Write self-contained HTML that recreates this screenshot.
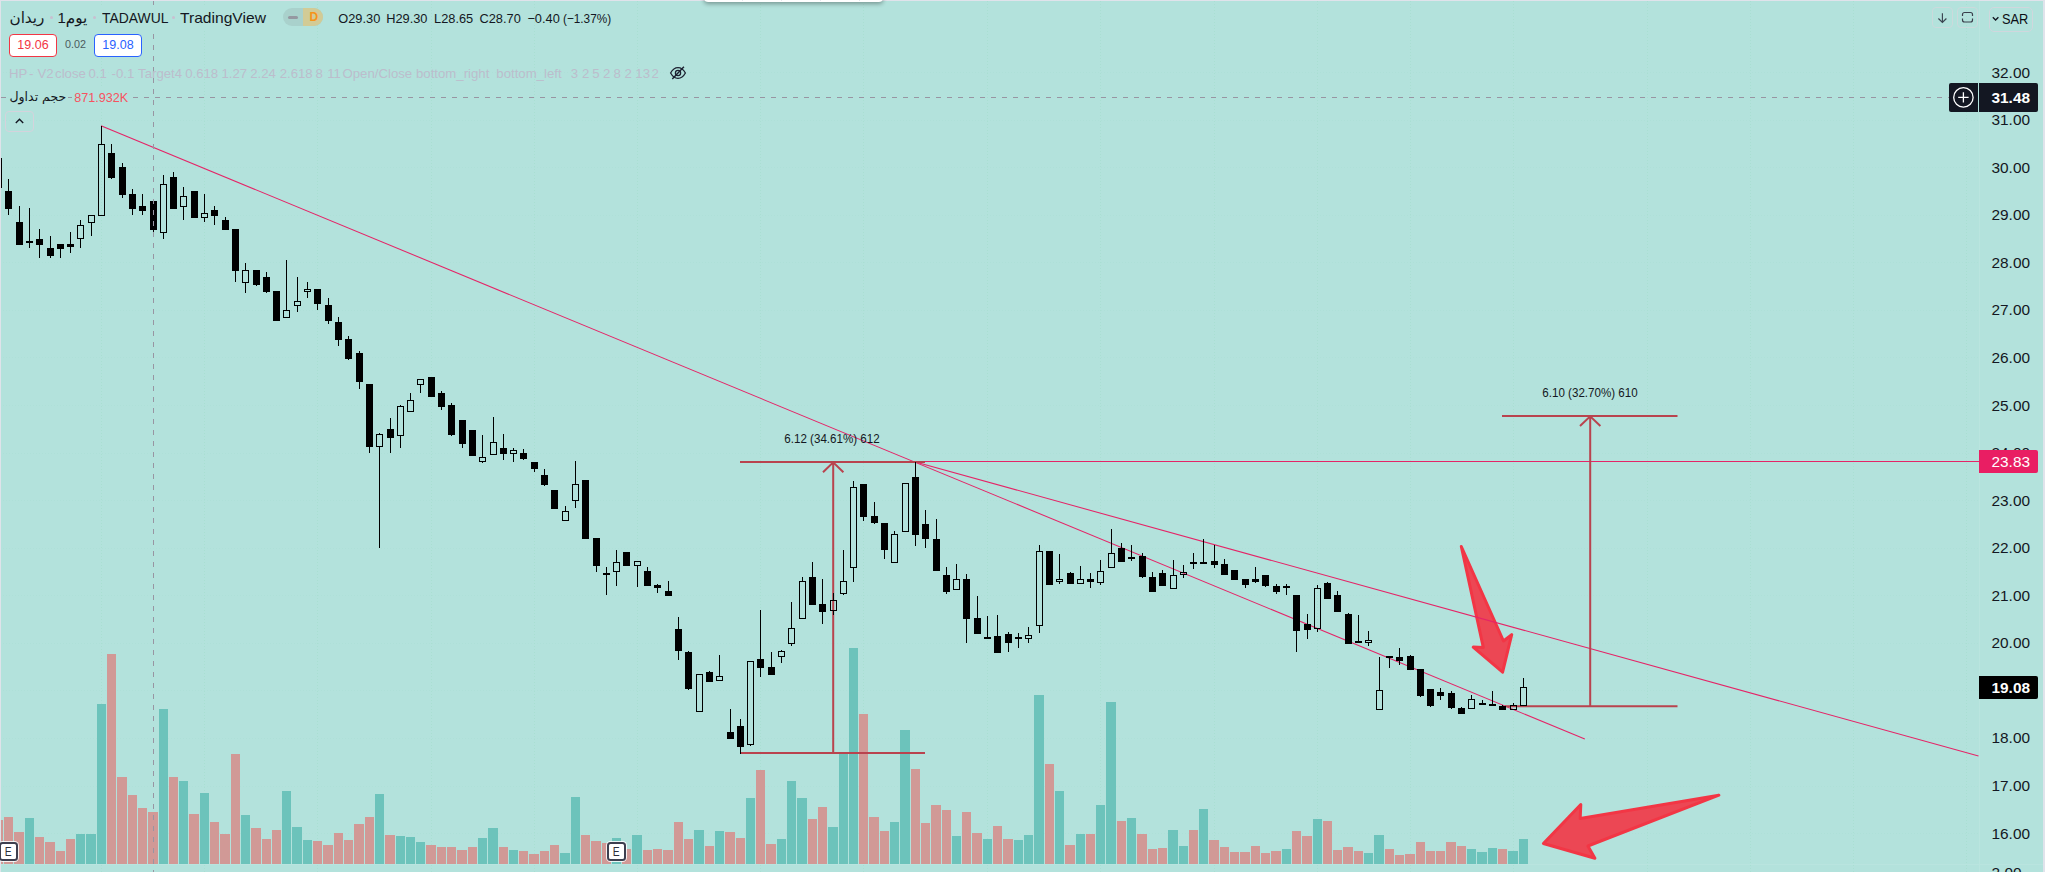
<!DOCTYPE html>
<html lang="ar"><head><meta charset="utf-8"><title>TADAWUL chart</title><style>
html,body{margin:0;padding:0}
body{width:2045px;height:872px;overflow:hidden;background:#b3e2dc;position:relative;font-family:"Liberation Sans","DejaVu Sans",sans-serif;color:#131722}
.t{position:absolute;white-space:nowrap;line-height:1.2}
.ar{font-family:"DejaVu Sans","Liberation Sans",sans-serif}
.c{text-align:center}
.hp{position:absolute;left:0;top:65.5px;font-size:13.2px;line-height:1.2;color:#bcbdcc;white-space:nowrap}
.hp span{position:absolute;top:0}
.sx{transform-origin:0 50%}
.pl{position:absolute;left:1979px;width:59px;text-align:right;padding-right:0;font-size:15.4px;line-height:20px;height:20px;color:#131722;box-sizing:border-box;padding-right:8px}
.box{position:absolute;color:#fff;font-size:15.4px;text-align:right;box-sizing:border-box;padding-right:8px;border-radius:0 2px 2px 0}
.b{font-weight:bold}
.btn{position:absolute;border:1px solid #c9dfe3;border-radius:4px;box-sizing:content-box}
.dot{position:absolute;width:3px;height:3px;border-radius:50%;background:#c9bfd0}
.qb{position:absolute;box-sizing:border-box;width:48px;height:23px;border:1px solid;border-radius:4px;background:#fff;font-size:12.5px;line-height:21px;text-align:center}
.em{position:absolute;box-sizing:border-box;width:19px;height:19px;border:2px solid #3d3f4f;border-radius:3.5px;background:#fff;box-shadow:0 0 0 1px rgba(255,255,255,.85);font-size:12.6px;line-height:16.6px;text-align:center;color:#2a2e39}
.em span{display:inline-block;transform:scaleX(.82)}
</style></head><body>
<svg width="2045" height="872" viewBox="0 0 2045 872" style="position:absolute;left:0;top:0"><g id="grid" stroke="#a9dfd2" stroke-width="1" stroke-dasharray="1 2" fill="none" shape-rendering="crispEdges">
<path d="M0 833.5H1979" stroke="#aee0d8"/>
<path d="M0 786.5H1979" stroke="#aee0d8"/>
<path d="M0 738.5H1979" stroke="#aee0d8"/>
<path d="M0 690.5H1979" stroke="#aee0d8"/>
<path d="M0 643.5H1979" stroke="#aee0d8"/>
<path d="M0 595.5H1979" stroke="#aee0d8"/>
<path d="M0 548.5H1979" stroke="#aee0d8"/>
<path d="M0 500.5H1979" stroke="#aee0d8"/>
<path d="M0 453.5H1979" stroke="#aee0d8"/>
<path d="M0 405.5H1979" stroke="#aee0d8"/>
<path d="M0 357.5H1979" stroke="#aee0d8"/>
<path d="M0 310.5H1979" stroke="#aee0d8"/>
<path d="M0 262.5H1979" stroke="#aee0d8"/>
<path d="M0 215.5H1979" stroke="#aee0d8"/>
<path d="M0 167.5H1979" stroke="#aee0d8"/>
<path d="M0 120.5H1979" stroke="#aee0d8"/>
<path d="M0 72.5H1979" stroke="#aee0d8"/>
<path d="M101.5 1V872"/>
<path d="M204.5 1V872"/>
<path d="M317.5 1V872"/>
<path d="M431.5 1V872"/>
<path d="M534.5 1V872"/>
<path d="M637.5 1V872"/>
<path d="M760.5 1V872"/>
<path d="M863.5 1V872"/>
<path d="M987.5 1V872"/>
<path d="M1100.5 1V872"/>
<path d="M1214.5 1V872"/>
<path d="M1317.5 1V872"/>
<path d="M1410.5 1V872"/>
<path d="M1513.5 1V872"/>
<path d="M1647.5 1V872"/>
<path d="M1750.5 1V872"/>
<path d="M1853.5 1V872"/>
<path d="M1966.5 1V872"/>
</g>
<g id="vol" shape-rendering="crispEdges">
<rect x="-6" y="820" width="9" height="44" fill="#d19996"/>
<rect x="4" y="817" width="9" height="47" fill="#d19996"/>
<rect x="14" y="832" width="10" height="32" fill="#d19996"/>
<rect x="25" y="818" width="9" height="46" fill="#6cc3bb"/>
<rect x="35" y="837" width="9" height="27" fill="#d19996"/>
<rect x="45" y="842" width="10" height="22" fill="#d19996"/>
<rect x="56" y="851" width="9" height="13" fill="#d19996"/>
<rect x="66" y="839" width="9" height="25" fill="#d19996"/>
<rect x="76" y="834" width="9" height="30" fill="#6cc3bb"/>
<rect x="86" y="834" width="10" height="30" fill="#6cc3bb"/>
<rect x="97" y="704" width="9" height="160" fill="#6cc3bb"/>
<rect x="107" y="654" width="9" height="210" fill="#d19996"/>
<rect x="117" y="777" width="10" height="87" fill="#d19996"/>
<rect x="128" y="795" width="9" height="69" fill="#d19996"/>
<rect x="138" y="808" width="9" height="56" fill="#d19996"/>
<rect x="148" y="812" width="10" height="52" fill="#d19996"/>
<rect x="159" y="709" width="9" height="155" fill="#6cc3bb"/>
<rect x="169" y="777" width="9" height="87" fill="#d19996"/>
<rect x="179" y="781" width="9" height="83" fill="#6cc3bb"/>
<rect x="189" y="814" width="10" height="50" fill="#d19996"/>
<rect x="200" y="793" width="9" height="71" fill="#6cc3bb"/>
<rect x="210" y="822" width="9" height="42" fill="#d19996"/>
<rect x="220" y="834" width="10" height="30" fill="#d19996"/>
<rect x="231" y="754" width="9" height="110" fill="#d19996"/>
<rect x="241" y="815" width="9" height="49" fill="#6cc3bb"/>
<rect x="251" y="828" width="10" height="36" fill="#d19996"/>
<rect x="262" y="839" width="9" height="25" fill="#d19996"/>
<rect x="272" y="830" width="9" height="34" fill="#d19996"/>
<rect x="282" y="791" width="9" height="73" fill="#6cc3bb"/>
<rect x="292" y="827" width="10" height="37" fill="#6cc3bb"/>
<rect x="303" y="840" width="9" height="24" fill="#6cc3bb"/>
<rect x="313" y="841" width="9" height="23" fill="#d19996"/>
<rect x="323" y="845" width="10" height="19" fill="#d19996"/>
<rect x="334" y="833" width="9" height="31" fill="#d19996"/>
<rect x="344" y="840" width="9" height="24" fill="#d19996"/>
<rect x="354" y="824" width="10" height="40" fill="#d19996"/>
<rect x="365" y="817" width="9" height="47" fill="#d19996"/>
<rect x="375" y="794" width="9" height="70" fill="#6cc3bb"/>
<rect x="385" y="835" width="10" height="29" fill="#d19996"/>
<rect x="396" y="836" width="9" height="28" fill="#6cc3bb"/>
<rect x="406" y="837" width="9" height="27" fill="#6cc3bb"/>
<rect x="416" y="842" width="9" height="22" fill="#6cc3bb"/>
<rect x="426" y="845" width="10" height="19" fill="#d19996"/>
<rect x="437" y="847" width="9" height="17" fill="#d19996"/>
<rect x="447" y="847" width="9" height="17" fill="#d19996"/>
<rect x="457" y="850" width="10" height="14" fill="#d19996"/>
<rect x="468" y="847" width="9" height="17" fill="#d19996"/>
<rect x="478" y="838" width="9" height="26" fill="#6cc3bb"/>
<rect x="488" y="828" width="10" height="36" fill="#6cc3bb"/>
<rect x="499" y="847" width="9" height="17" fill="#d19996"/>
<rect x="509" y="850" width="9" height="14" fill="#6cc3bb"/>
<rect x="519" y="851" width="9" height="13" fill="#d19996"/>
<rect x="529" y="854" width="10" height="10" fill="#d19996"/>
<rect x="540" y="851" width="9" height="13" fill="#d19996"/>
<rect x="550" y="845" width="9" height="19" fill="#d19996"/>
<rect x="560" y="853" width="10" height="11" fill="#6cc3bb"/>
<rect x="571" y="797" width="9" height="67" fill="#6cc3bb"/>
<rect x="581" y="835" width="9" height="29" fill="#d19996"/>
<rect x="591" y="841" width="10" height="23" fill="#d19996"/>
<rect x="602" y="843" width="9" height="21" fill="#d19996"/>
<rect x="612" y="838" width="9" height="26" fill="#6cc3bb"/>
<rect x="622" y="849" width="9" height="15" fill="#d19996"/>
<rect x="632" y="835" width="10" height="29" fill="#6cc3bb"/>
<rect x="643" y="850" width="9" height="14" fill="#d19996"/>
<rect x="653" y="849" width="9" height="15" fill="#d19996"/>
<rect x="663" y="850" width="10" height="14" fill="#d19996"/>
<rect x="674" y="822" width="9" height="42" fill="#d19996"/>
<rect x="684" y="839" width="9" height="25" fill="#d19996"/>
<rect x="694" y="830" width="10" height="34" fill="#6cc3bb"/>
<rect x="705" y="846" width="9" height="18" fill="#d19996"/>
<rect x="715" y="831" width="9" height="33" fill="#6cc3bb"/>
<rect x="725" y="832" width="10" height="32" fill="#d19996"/>
<rect x="736" y="838" width="9" height="26" fill="#d19996"/>
<rect x="746" y="798" width="9" height="66" fill="#6cc3bb"/>
<rect x="756" y="770" width="9" height="94" fill="#d19996"/>
<rect x="766" y="844" width="10" height="20" fill="#d19996"/>
<rect x="777" y="839" width="9" height="25" fill="#6cc3bb"/>
<rect x="787" y="781" width="9" height="83" fill="#6cc3bb"/>
<rect x="797" y="798" width="10" height="66" fill="#6cc3bb"/>
<rect x="808" y="819" width="9" height="45" fill="#d19996"/>
<rect x="818" y="807" width="9" height="57" fill="#d19996"/>
<rect x="828" y="827" width="10" height="37" fill="#6cc3bb"/>
<rect x="839" y="753" width="9" height="111" fill="#6cc3bb"/>
<rect x="849" y="648" width="9" height="216" fill="#6cc3bb"/>
<rect x="859" y="714" width="9" height="150" fill="#d19996"/>
<rect x="869" y="817" width="10" height="47" fill="#d19996"/>
<rect x="880" y="831" width="9" height="33" fill="#d19996"/>
<rect x="890" y="822" width="9" height="42" fill="#6cc3bb"/>
<rect x="900" y="730" width="10" height="134" fill="#6cc3bb"/>
<rect x="911" y="769" width="9" height="95" fill="#d19996"/>
<rect x="921" y="823" width="9" height="41" fill="#d19996"/>
<rect x="931" y="805" width="10" height="59" fill="#d19996"/>
<rect x="942" y="810" width="9" height="54" fill="#d19996"/>
<rect x="952" y="836" width="9" height="28" fill="#6cc3bb"/>
<rect x="962" y="812" width="9" height="52" fill="#d19996"/>
<rect x="972" y="833" width="10" height="31" fill="#d19996"/>
<rect x="983" y="839" width="9" height="25" fill="#6cc3bb"/>
<rect x="993" y="826" width="9" height="38" fill="#d19996"/>
<rect x="1003" y="839" width="10" height="25" fill="#d19996"/>
<rect x="1014" y="840" width="9" height="24" fill="#6cc3bb"/>
<rect x="1024" y="835" width="9" height="29" fill="#6cc3bb"/>
<rect x="1034" y="695" width="10" height="169" fill="#6cc3bb"/>
<rect x="1045" y="764" width="9" height="100" fill="#d19996"/>
<rect x="1055" y="791" width="9" height="73" fill="#6cc3bb"/>
<rect x="1065" y="845" width="10" height="19" fill="#d19996"/>
<rect x="1076" y="834" width="9" height="30" fill="#6cc3bb"/>
<rect x="1086" y="834" width="9" height="30" fill="#d19996"/>
<rect x="1096" y="805" width="9" height="59" fill="#6cc3bb"/>
<rect x="1106" y="702" width="10" height="162" fill="#6cc3bb"/>
<rect x="1117" y="821" width="9" height="43" fill="#d19996"/>
<rect x="1127" y="818" width="9" height="46" fill="#6cc3bb"/>
<rect x="1137" y="834" width="10" height="30" fill="#d19996"/>
<rect x="1148" y="849" width="9" height="15" fill="#d19996"/>
<rect x="1158" y="848" width="9" height="16" fill="#d19996"/>
<rect x="1168" y="830" width="10" height="34" fill="#6cc3bb"/>
<rect x="1179" y="846" width="9" height="18" fill="#6cc3bb"/>
<rect x="1189" y="830" width="9" height="34" fill="#d19996"/>
<rect x="1199" y="809" width="9" height="55" fill="#6cc3bb"/>
<rect x="1209" y="840" width="10" height="24" fill="#d19996"/>
<rect x="1220" y="847" width="9" height="17" fill="#d19996"/>
<rect x="1230" y="852" width="9" height="12" fill="#d19996"/>
<rect x="1240" y="852" width="10" height="12" fill="#d19996"/>
<rect x="1251" y="846" width="9" height="18" fill="#d19996"/>
<rect x="1261" y="853" width="9" height="11" fill="#d19996"/>
<rect x="1271" y="851" width="10" height="13" fill="#d19996"/>
<rect x="1282" y="849" width="9" height="15" fill="#6cc3bb"/>
<rect x="1292" y="831" width="9" height="33" fill="#d19996"/>
<rect x="1302" y="836" width="10" height="28" fill="#d19996"/>
<rect x="1313" y="819" width="9" height="45" fill="#6cc3bb"/>
<rect x="1323" y="821" width="9" height="43" fill="#d19996"/>
<rect x="1333" y="850" width="9" height="14" fill="#d19996"/>
<rect x="1343" y="847" width="10" height="17" fill="#d19996"/>
<rect x="1354" y="851" width="9" height="13" fill="#d19996"/>
<rect x="1364" y="853" width="9" height="11" fill="#6cc3bb"/>
<rect x="1374" y="835" width="10" height="29" fill="#6cc3bb"/>
<rect x="1385" y="849" width="9" height="15" fill="#d19996"/>
<rect x="1395" y="855" width="9" height="9" fill="#d19996"/>
<rect x="1405" y="854" width="10" height="10" fill="#d19996"/>
<rect x="1416" y="842" width="9" height="22" fill="#d19996"/>
<rect x="1426" y="851" width="9" height="13" fill="#d19996"/>
<rect x="1436" y="851" width="9" height="13" fill="#d19996"/>
<rect x="1446" y="842" width="10" height="22" fill="#d19996"/>
<rect x="1457" y="846" width="9" height="18" fill="#d19996"/>
<rect x="1467" y="849" width="9" height="15" fill="#6cc3bb"/>
<rect x="1477" y="852" width="10" height="12" fill="#6cc3bb"/>
<rect x="1488" y="848" width="9" height="16" fill="#6cc3bb"/>
<rect x="1498" y="849" width="9" height="15" fill="#d19996"/>
<rect x="1508" y="851" width="10" height="13" fill="#6cc3bb"/>
<rect x="1519" y="839" width="9" height="25" fill="#6cc3bb"/>
</g>
<g id="arrows" fill="#ec4754" stroke="#f23645" stroke-width="3" stroke-linejoin="round">
<path d="M1461.3 546.5L1503.5 641L1511.7 634.6L1502.6 672.2L1473.2 647.1L1483.3 647.4Z"/>
<path d="M1718.9 795.2L1580.2 818.5L1580.8 804.5L1543.4 843.5L1594.9 858.3L1587.9 846Z"/>
</g>
<g id="lines" stroke="#e52467" stroke-width="1.05" fill="none">
<path d="M101 125.8L1584.8 739"/>
<path d="M915.5 462L1978.5 756"/>
<path d="M915 461.5H1979" stroke-width="1" shape-rendering="crispEdges"/>
</g>
<g id="meas" stroke="#b9434e" stroke-width="2" fill="none">
<path d="M740 462H925M740.5 753H925M833.2 462V753M823 472.2L833.2 462.3L843.4 472.2"/>
<path d="M1502 416H1677.5M1505 706.2H1677.5M1590.2 416V706M1580 426L1590.2 416.3L1600.4 426"/>
</g>
<g id="candles" shape-rendering="crispEdges" fill="#000">
<path d="M-5 158h7v30h-7zM-4 159v28h5v-28z" fill-rule="evenodd"/>
<rect x="8" y="179" width="1" height="36"/>
<rect x="5" y="191" width="7" height="18"/>
<rect x="19" y="206" width="1" height="39"/>
<rect x="16" y="222" width="7" height="23"/>
<rect x="29" y="208" width="1" height="40"/>
<rect x="26" y="241" width="7" height="2"/>
<rect x="39" y="229" width="1" height="29"/>
<rect x="36" y="239" width="7" height="6"/>
<rect x="50" y="236" width="1" height="22"/>
<rect x="47" y="248" width="7" height="8"/>
<rect x="60" y="244" width="1" height="14"/>
<rect x="57" y="244" width="7" height="5"/>
<rect x="70" y="232" width="1" height="21"/>
<rect x="67" y="244" width="7" height="3"/>
<rect x="80" y="220" width="1" height="5"/>
<rect x="80" y="239" width="1" height="9"/>
<path d="M77 225h7v14h-7zM78 226v12h5v-12z" fill-rule="evenodd"/>
<rect x="91" y="223" width="1" height="13"/>
<path d="M88 215h7v8h-7zM89 216v6h5v-6z" fill-rule="evenodd"/>
<rect x="101" y="126" width="1" height="18"/>
<path d="M98 144h7v72h-7zM99 145v70h5v-70z" fill-rule="evenodd"/>
<rect x="111" y="144" width="1" height="35"/>
<rect x="108" y="153" width="7" height="25"/>
<rect x="122" y="163" width="1" height="35"/>
<rect x="119" y="167" width="7" height="28"/>
<rect x="132" y="189" width="1" height="26"/>
<rect x="129" y="194" width="7" height="15"/>
<rect x="142" y="194" width="1" height="21"/>
<rect x="139" y="206" width="7" height="5"/>
<rect x="153" y="201" width="1" height="31"/>
<rect x="150" y="201" width="7" height="29"/>
<rect x="163" y="175" width="1" height="9"/>
<rect x="163" y="233" width="1" height="6"/>
<path d="M160 184h7v49h-7zM161 185v47h5v-47z" fill-rule="evenodd"/>
<rect x="173" y="172" width="1" height="37"/>
<rect x="170" y="177" width="7" height="32"/>
<rect x="183" y="187" width="1" height="9"/>
<rect x="183" y="207" width="1" height="13"/>
<path d="M180 196h7v11h-7zM181 197v9h5v-9z" fill-rule="evenodd"/>
<rect x="194" y="191" width="1" height="27"/>
<rect x="191" y="191" width="7" height="27"/>
<rect x="204" y="194" width="1" height="19"/>
<rect x="204" y="218" width="1" height="4"/>
<path d="M201 213h7v5h-7zM202 214v3h5v-3z" fill-rule="evenodd"/>
<rect x="214" y="206" width="1" height="19"/>
<rect x="211" y="210" width="7" height="6"/>
<rect x="225" y="217" width="1" height="13"/>
<rect x="222" y="220" width="7" height="10"/>
<rect x="235" y="229" width="1" height="53"/>
<rect x="232" y="229" width="7" height="42"/>
<rect x="245" y="263" width="1" height="7"/>
<rect x="245" y="283" width="1" height="10"/>
<path d="M242 270h7v13h-7zM243 271v11h5v-11z" fill-rule="evenodd"/>
<rect x="256" y="270" width="1" height="16"/>
<rect x="253" y="270" width="7" height="15"/>
<rect x="266" y="272" width="1" height="21"/>
<rect x="263" y="277" width="7" height="15"/>
<rect x="276" y="291" width="1" height="30"/>
<rect x="273" y="291" width="7" height="30"/>
<rect x="286" y="260" width="1" height="50"/>
<path d="M283 310h7v8h-7zM284 311v6h5v-6z" fill-rule="evenodd"/>
<rect x="297" y="277" width="1" height="24"/>
<rect x="297" y="306" width="1" height="6"/>
<path d="M294 301h7v5h-7zM295 302v3h5v-3z" fill-rule="evenodd"/>
<rect x="307" y="282" width="1" height="7"/>
<rect x="307" y="292" width="1" height="6"/>
<path d="M304 289h7v3h-7zM305 290v1h5v-1z" fill-rule="evenodd"/>
<rect x="317" y="289" width="1" height="21"/>
<rect x="314" y="289" width="7" height="15"/>
<rect x="328" y="298" width="1" height="26"/>
<rect x="325" y="305" width="7" height="16"/>
<rect x="338" y="317" width="1" height="29"/>
<rect x="335" y="322" width="7" height="18"/>
<rect x="348" y="336" width="1" height="24"/>
<rect x="345" y="339" width="7" height="20"/>
<rect x="359" y="351" width="1" height="38"/>
<rect x="356" y="353" width="7" height="29"/>
<rect x="369" y="384" width="1" height="69"/>
<rect x="366" y="384" width="7" height="63"/>
<rect x="379" y="433" width="1" height="1"/>
<rect x="379" y="447" width="1" height="101"/>
<path d="M376 434h7v13h-7zM377 435v11h5v-11z" fill-rule="evenodd"/>
<rect x="390" y="418" width="1" height="35"/>
<rect x="387" y="429" width="7" height="9"/>
<rect x="400" y="405" width="1" height="1"/>
<rect x="400" y="436" width="1" height="12"/>
<path d="M397 406h7v30h-7zM398 407v28h5v-28z" fill-rule="evenodd"/>
<rect x="410" y="393" width="1" height="7"/>
<path d="M407 400h7v12h-7zM408 401v10h5v-10z" fill-rule="evenodd"/>
<rect x="420" y="385" width="1" height="8"/>
<path d="M417 379h7v6h-7zM418 380v4h5v-4z" fill-rule="evenodd"/>
<rect x="431" y="377" width="1" height="20"/>
<rect x="428" y="377" width="7" height="20"/>
<rect x="441" y="391" width="1" height="19"/>
<rect x="438" y="393" width="7" height="14"/>
<rect x="451" y="403" width="1" height="33"/>
<rect x="448" y="405" width="7" height="30"/>
<rect x="462" y="420" width="1" height="28"/>
<rect x="459" y="420" width="7" height="24"/>
<rect x="472" y="430" width="1" height="26"/>
<rect x="469" y="430" width="7" height="26"/>
<rect x="482" y="435" width="1" height="22"/>
<rect x="482" y="462" width="1" height="1"/>
<path d="M479 457h7v5h-7zM480 458v3h5v-3z" fill-rule="evenodd"/>
<rect x="493" y="417" width="1" height="25"/>
<path d="M490 442h7v13h-7zM491 443v11h5v-11z" fill-rule="evenodd"/>
<rect x="503" y="434" width="1" height="26"/>
<rect x="500" y="448" width="7" height="6"/>
<rect x="513" y="448" width="1" height="2"/>
<rect x="513" y="454" width="1" height="8"/>
<path d="M510 450h7v4h-7zM511 451v2h5v-2z" fill-rule="evenodd"/>
<rect x="523" y="449" width="1" height="11"/>
<rect x="520" y="453" width="7" height="6"/>
<rect x="534" y="462" width="1" height="10"/>
<rect x="531" y="462" width="7" height="7"/>
<rect x="544" y="469" width="1" height="17"/>
<rect x="541" y="475" width="7" height="10"/>
<rect x="554" y="490" width="1" height="19"/>
<rect x="551" y="490" width="7" height="19"/>
<rect x="565" y="506" width="1" height="5"/>
<path d="M562 511h7v10h-7zM563 512v8h5v-8z" fill-rule="evenodd"/>
<rect x="575" y="461" width="1" height="23"/>
<rect x="575" y="501" width="1" height="7"/>
<path d="M572 484h7v17h-7zM573 485v15h5v-15z" fill-rule="evenodd"/>
<rect x="585" y="480" width="1" height="59"/>
<rect x="582" y="480" width="7" height="59"/>
<rect x="596" y="538" width="1" height="34"/>
<rect x="593" y="538" width="7" height="28"/>
<rect x="606" y="567" width="1" height="28"/>
<rect x="603" y="573" width="7" height="2"/>
<rect x="616" y="550" width="1" height="12"/>
<rect x="616" y="572" width="1" height="14"/>
<path d="M613 562h7v10h-7zM614 563v8h5v-8z" fill-rule="evenodd"/>
<rect x="626" y="552" width="1" height="14"/>
<rect x="623" y="552" width="7" height="14"/>
<rect x="637" y="566" width="1" height="21"/>
<path d="M634 561h7v5h-7zM635 562v3h5v-3z" fill-rule="evenodd"/>
<rect x="647" y="567" width="1" height="19"/>
<rect x="644" y="571" width="7" height="15"/>
<rect x="657" y="584" width="1" height="9"/>
<rect x="654" y="585" width="7" height="3"/>
<rect x="668" y="581" width="1" height="15"/>
<rect x="665" y="591" width="7" height="5"/>
<rect x="678" y="617" width="1" height="43"/>
<rect x="675" y="629" width="7" height="22"/>
<rect x="688" y="651" width="1" height="39"/>
<rect x="685" y="652" width="7" height="37"/>
<path d="M696 674h7v38h-7zM697 675v36h5v-36z" fill-rule="evenodd"/>
<rect x="709" y="671" width="1" height="11"/>
<rect x="706" y="672" width="7" height="10"/>
<rect x="719" y="655" width="1" height="21"/>
<path d="M716 676h7v5h-7zM717 677v3h5v-3z" fill-rule="evenodd"/>
<rect x="730" y="709" width="1" height="30"/>
<rect x="727" y="732" width="7" height="7"/>
<rect x="740" y="719" width="1" height="35"/>
<rect x="737" y="726" width="7" height="21"/>
<rect x="750" y="745" width="1" height="1"/>
<path d="M747 661h7v84h-7zM748 662v82h5v-82z" fill-rule="evenodd"/>
<rect x="760" y="610" width="1" height="67"/>
<rect x="757" y="659" width="7" height="9"/>
<rect x="771" y="652" width="1" height="23"/>
<rect x="768" y="667" width="7" height="8"/>
<rect x="781" y="650" width="1" height="1"/>
<rect x="781" y="657" width="1" height="6"/>
<path d="M778 651h7v6h-7zM779 652v4h5v-4z" fill-rule="evenodd"/>
<rect x="791" y="602" width="1" height="26"/>
<rect x="791" y="644" width="1" height="2"/>
<path d="M788 628h7v16h-7zM789 629v14h5v-14z" fill-rule="evenodd"/>
<rect x="802" y="577" width="1" height="4"/>
<path d="M799 581h7v38h-7zM800 582v36h5v-36z" fill-rule="evenodd"/>
<rect x="812" y="562" width="1" height="43"/>
<rect x="809" y="577" width="7" height="28"/>
<rect x="822" y="579" width="1" height="45"/>
<rect x="819" y="604" width="7" height="8"/>
<rect x="833" y="593" width="1" height="7"/>
<rect x="833" y="611" width="1" height="4"/>
<path d="M830 600h7v11h-7zM831 601v9h5v-9z" fill-rule="evenodd"/>
<rect x="843" y="550" width="1" height="31"/>
<rect x="843" y="594" width="1" height="1"/>
<path d="M840 581h7v13h-7zM841 582v11h5v-11z" fill-rule="evenodd"/>
<rect x="853" y="481" width="1" height="6"/>
<rect x="853" y="568" width="1" height="14"/>
<path d="M850 487h7v81h-7zM851 488v79h5v-79z" fill-rule="evenodd"/>
<rect x="863" y="484" width="1" height="37"/>
<rect x="860" y="484" width="7" height="33"/>
<rect x="874" y="502" width="1" height="22"/>
<rect x="871" y="516" width="7" height="7"/>
<rect x="884" y="523" width="1" height="36"/>
<rect x="881" y="523" width="7" height="27"/>
<rect x="894" y="531" width="1" height="3"/>
<path d="M891 534h7v29h-7zM892 535v27h5v-27z" fill-rule="evenodd"/>
<path d="M902 483h7v49h-7zM903 484v47h5v-47z" fill-rule="evenodd"/>
<rect x="915" y="462" width="1" height="84"/>
<rect x="912" y="477" width="7" height="58"/>
<rect x="925" y="510" width="1" height="38"/>
<rect x="922" y="524" width="7" height="15"/>
<rect x="936" y="519" width="1" height="52"/>
<rect x="933" y="539" width="7" height="32"/>
<rect x="946" y="567" width="1" height="27"/>
<rect x="943" y="575" width="7" height="17"/>
<rect x="956" y="564" width="1" height="15"/>
<path d="M953 579h7v11h-7zM954 580v9h5v-9z" fill-rule="evenodd"/>
<rect x="966" y="574" width="1" height="69"/>
<rect x="963" y="579" width="7" height="40"/>
<rect x="977" y="596" width="1" height="38"/>
<rect x="974" y="618" width="7" height="16"/>
<rect x="987" y="616" width="1" height="22"/>
<rect x="984" y="637" width="7" height="2"/>
<rect x="997" y="615" width="1" height="38"/>
<rect x="994" y="636" width="7" height="17"/>
<rect x="1008" y="632" width="1" height="20"/>
<rect x="1005" y="634" width="7" height="9"/>
<rect x="1018" y="633" width="1" height="15"/>
<rect x="1015" y="637" width="7" height="2"/>
<rect x="1028" y="627" width="1" height="8"/>
<rect x="1028" y="639" width="1" height="4"/>
<path d="M1025 635h7v4h-7zM1026 636v2h5v-2z" fill-rule="evenodd"/>
<rect x="1039" y="545" width="1" height="6"/>
<rect x="1039" y="626" width="1" height="7"/>
<path d="M1036 551h7v75h-7zM1037 552v73h5v-73z" fill-rule="evenodd"/>
<rect x="1049" y="551" width="1" height="34"/>
<rect x="1046" y="551" width="7" height="34"/>
<rect x="1059" y="554" width="1" height="25"/>
<rect x="1059" y="582" width="1" height="2"/>
<path d="M1056 579h7v3h-7zM1057 580v1h5v-1z" fill-rule="evenodd"/>
<rect x="1070" y="572" width="1" height="12"/>
<rect x="1067" y="573" width="7" height="11"/>
<rect x="1080" y="566" width="1" height="13"/>
<path d="M1077 579h7v5h-7zM1078 580v3h5v-3z" fill-rule="evenodd"/>
<rect x="1090" y="573" width="1" height="15"/>
<rect x="1087" y="579" width="7" height="3"/>
<rect x="1100" y="560" width="1" height="11"/>
<rect x="1100" y="583" width="1" height="2"/>
<path d="M1097 571h7v12h-7zM1098 572v10h5v-10z" fill-rule="evenodd"/>
<rect x="1111" y="529" width="1" height="24"/>
<path d="M1108 553h7v15h-7zM1109 554v13h5v-13z" fill-rule="evenodd"/>
<rect x="1121" y="543" width="1" height="19"/>
<rect x="1118" y="548" width="7" height="14"/>
<rect x="1131" y="545" width="1" height="16"/>
<rect x="1128" y="557" width="7" height="2"/>
<rect x="1142" y="553" width="1" height="25"/>
<rect x="1139" y="556" width="7" height="21"/>
<rect x="1152" y="572" width="1" height="20"/>
<rect x="1149" y="577" width="7" height="15"/>
<rect x="1162" y="570" width="1" height="16"/>
<rect x="1159" y="573" width="7" height="13"/>
<rect x="1173" y="560" width="1" height="15"/>
<path d="M1170 575h7v14h-7zM1171 576v12h5v-12z" fill-rule="evenodd"/>
<rect x="1183" y="565" width="1" height="7"/>
<rect x="1183" y="575" width="1" height="3"/>
<path d="M1180 572h7v3h-7zM1181 573v1h5v-1z" fill-rule="evenodd"/>
<rect x="1193" y="553" width="1" height="16"/>
<rect x="1190" y="562" width="7" height="2"/>
<rect x="1203" y="539" width="1" height="25"/>
<rect x="1200" y="562" width="7" height="2"/>
<rect x="1214" y="545" width="1" height="23"/>
<rect x="1211" y="561" width="7" height="4"/>
<rect x="1224" y="559" width="1" height="16"/>
<rect x="1221" y="564" width="7" height="11"/>
<rect x="1234" y="570" width="1" height="10"/>
<rect x="1231" y="570" width="7" height="10"/>
<rect x="1245" y="579" width="1" height="9"/>
<rect x="1242" y="579" width="7" height="6"/>
<rect x="1255" y="567" width="1" height="16"/>
<rect x="1252" y="579" width="7" height="3"/>
<rect x="1265" y="575" width="1" height="12"/>
<rect x="1262" y="575" width="7" height="11"/>
<rect x="1276" y="584" width="1" height="10"/>
<rect x="1273" y="586" width="7" height="6"/>
<rect x="1286" y="584" width="1" height="11"/>
<rect x="1283" y="586" width="7" height="2"/>
<rect x="1296" y="595" width="1" height="57"/>
<rect x="1293" y="595" width="7" height="36"/>
<rect x="1307" y="614" width="1" height="25"/>
<rect x="1304" y="624" width="7" height="6"/>
<rect x="1317" y="585" width="1" height="3"/>
<rect x="1317" y="629" width="1" height="3"/>
<path d="M1314 588h7v41h-7zM1315 589v39h5v-39z" fill-rule="evenodd"/>
<rect x="1327" y="582" width="1" height="17"/>
<rect x="1324" y="583" width="7" height="16"/>
<rect x="1337" y="591" width="1" height="21"/>
<rect x="1334" y="595" width="7" height="17"/>
<rect x="1348" y="613" width="1" height="31"/>
<rect x="1345" y="614" width="7" height="30"/>
<rect x="1358" y="615" width="1" height="28"/>
<rect x="1355" y="641" width="7" height="2"/>
<rect x="1368" y="631" width="1" height="9"/>
<rect x="1368" y="643" width="1" height="3"/>
<path d="M1365 640h7v3h-7zM1366 641v1h5v-1z" fill-rule="evenodd"/>
<rect x="1379" y="657" width="1" height="33"/>
<path d="M1376 690h7v20h-7zM1377 691v18h5v-18z" fill-rule="evenodd"/>
<rect x="1389" y="656" width="1" height="12"/>
<rect x="1386" y="656" width="7" height="2"/>
<rect x="1399" y="648" width="1" height="17"/>
<rect x="1396" y="657" width="7" height="4"/>
<rect x="1410" y="655" width="1" height="15"/>
<rect x="1407" y="656" width="7" height="14"/>
<rect x="1420" y="669" width="1" height="28"/>
<rect x="1417" y="669" width="7" height="27"/>
<rect x="1430" y="689" width="1" height="18"/>
<rect x="1427" y="689" width="7" height="17"/>
<rect x="1440" y="688" width="1" height="12"/>
<rect x="1437" y="692" width="7" height="4"/>
<rect x="1451" y="691" width="1" height="18"/>
<rect x="1448" y="693" width="7" height="15"/>
<rect x="1461" y="707" width="1" height="7"/>
<rect x="1458" y="708" width="7" height="6"/>
<rect x="1471" y="695" width="1" height="4"/>
<path d="M1468 699h7v10h-7zM1469 700v8h5v-8z" fill-rule="evenodd"/>
<rect x="1482" y="700" width="1" height="5"/>
<rect x="1479" y="703" width="7" height="2"/>
<rect x="1492" y="691" width="1" height="15"/>
<rect x="1489" y="704" width="7" height="2"/>
<rect x="1502" y="705" width="1" height="5"/>
<rect x="1499" y="706" width="7" height="4"/>
<rect x="1513" y="703" width="1" height="2"/>
<path d="M1510 705h7v5h-7zM1511 706v3h5v-3z" fill-rule="evenodd"/>
<rect x="1523" y="678" width="1" height="9"/>
<path d="M1520 687h7v19h-7zM1521 688v17h5v-17z" fill-rule="evenodd"/>
</g>
<g id="cross" stroke="#9895a2" stroke-width="1" stroke-dasharray="5 6" stroke-dashoffset="10" fill="none" shape-rendering="crispEdges">
<path d="M0 97.5H1949"/><path d="M153.5 0V872"/>
</g>
<g shape-rendering="crispEdges">
<rect x="0" y="864" width="2043" height="1" fill="#b9e4df"/>
<rect x="1979" y="1" width="1" height="871" fill="#bae5df"/>
<rect x="0" y="0" width="2045" height="1" fill="#e0e3eb"/>
<rect x="2043" y="0" width="2" height="872" fill="#e0e3eb"/>
<rect x="0" y="0" width="1" height="872" fill="#dfe3ea"/>
</g></svg>
<div class="pl" style="top:823.6px">16.00</div>
<div class="pl" style="top:776.0px">17.00</div>
<div class="pl" style="top:728.4px">18.00</div>
<div class="pl" style="top:680.9px">19.00</div>
<div class="pl" style="top:633.3px">20.00</div>
<div class="pl" style="top:585.8px">21.00</div>
<div class="pl" style="top:538.2px">22.00</div>
<div class="pl" style="top:490.6px">23.00</div>
<div class="pl" style="top:443.1px">24.00</div>
<div class="pl" style="top:395.5px">25.00</div>
<div class="pl" style="top:348.0px">26.00</div>
<div class="pl" style="top:300.4px">27.00</div>
<div class="pl" style="top:252.8px">28.00</div>
<div class="pl" style="top:205.3px">29.00</div>
<div class="pl" style="top:157.7px">30.00</div>
<div class="pl" style="top:110.2px">31.00</div>
<div class="pl" style="top:62.6px">32.00</div>
<div class="pl" style="top:862.6px;text-align:left;padding-left:12.6px">2.00</div>
<div class="box" style="left:1979px;top:450px;width:59px;height:22.5px;background:#e91e63;line-height:23.4px">23.83</div>
<div class="box b" style="left:1979px;top:676px;width:59px;height:23px;background:#000;line-height:23px">19.08</div>
<div class="box b" style="left:1949px;top:83px;width:89px;height:29px;background:#131722;line-height:29px;border-radius:2px">31.48</div>
<div style="position:absolute;left:1978px;top:83px;width:1px;height:29px;background:#b3e2dc"></div>
<svg style="position:absolute;left:1951px;top:85px" width="25" height="25" viewBox="0 0 25 25"><circle cx="12.4" cy="12.4" r="9.7" fill="none" stroke="#fff" stroke-width="1.3"/><path d="M7.2 12.4H17.6M12.4 7.2V17.6" stroke="#fff" stroke-width="1.3"/></svg>
<div class="btn" style="left:1932px;top:7px;width:19px;height:19px;border-color:#cbdadc"></div>
<svg style="position:absolute;left:1932px;top:7px" width="20" height="20" viewBox="0 0 20 20"><path d="M10.4 6.2V15.3M6.4 11.5L10.4 15.5L14.4 11.5" fill="none" stroke="#3a4450" stroke-width="1.15"/></svg>
<div class="btn" style="left:1957px;top:7px;width:19px;height:19px;border-color:#cbdadc"></div>
<svg style="position:absolute;left:1957px;top:7px" width="20" height="20" viewBox="0 0 20 20"><path d="M5.5 9V7.5a2 2 0 0 1 2-2h6a2 2 0 0 1 2 2V9M5.5 11.5V13a2 2 0 0 0 2 2h6a2 2 0 0 0 2-2V11.5" fill="none" stroke="#3a3f4b" stroke-width="1.2"/></svg>
<div class="btn" style="left:1989px;top:7px;width:42px;height:23px;border-color:#d0d7dd;border-radius:5px"></div>
<svg style="position:absolute;left:1990px;top:12px" width="12" height="12" viewBox="0 0 12 12"><path d="M2.8 5.2L5.6 8L8.4 5.2" fill="none" stroke="#131722" stroke-width="1.35"/></svg>
<div class="t sx" style="left:2001.7px;top:11.1px;font-size:14.3px;color:#0c0e15;transform:scaleX(.895)">SAR</div>
<div style="position:absolute;left:1px;top:4.5px;width:272px;height:25.5px;background:#b3e2dc"></div>
<div class="t ar" style="left:9.5px;top:9px;font-size:15.2px" dir="rtl">ریدان</div>
<div class="t ar" style="left:57.5px;top:9px;font-size:15.2px"><span style="font-family:'Liberation Sans',sans-serif;font-size:15px">1</span>یوم</div>
<div class="t sx" style="left:101.5px;top:9px;font-size:15px;transform:scaleX(.927)">TADAWUL</div>
<div class="t sx" style="left:179.5px;top:9px;font-size:15px;transform:scaleX(1.041)">TradingView</div>
<div class="dot" style="left:49.8px;top:16px"></div>
<div class="dot" style="left:92.5px;top:16px"></div>
<div class="dot" style="left:171.9px;top:16px"></div>
<div style="position:absolute;left:283px;top:8px;width:40px;height:18px;border-radius:9px;overflow:hidden;background:#a9d1cc"><div style="position:absolute;left:20px;top:0;width:20px;height:18px;background:#d2cb96"></div><div style="position:absolute;left:4.5px;top:7.5px;width:10px;height:3px;border-radius:1.5px;background:#9598a1"></div></div>
<div class="t" style="left:309.5px;top:10px;font-size:12px;font-weight:bold;color:#f7931a">D</div>
<div class="t sx" style="left:338.3px;top:10.5px;font-size:12.8px">O29.30</div>
<div class="t sx" style="left:386.2px;top:10.5px;font-size:12.8px">H29.30</div>
<div class="t sx" style="left:434.1px;top:10.5px;font-size:12.8px">L28.65</div>
<div class="t sx" style="left:479.5px;top:10.5px;font-size:12.8px">C28.70</div>
<div class="t sx" style="left:527.4px;top:10.5px;font-size:12.8px">−0.40</div>
<div class="t sx" style="left:563.1px;top:10.5px;font-size:12.8px;transform:scaleX(.92)">(−1.37%)</div>
<div class="qb" style="left:9px;top:33.5px;border-color:#f23645;color:#f23645">19.06</div>
<div class="t" style="left:65px;top:38px;font-size:10.8px;color:#4a5a5c">0.02</div>
<div class="qb" style="left:94px;top:33.5px;border-color:#2962ff;color:#2962ff">19.08</div>
<div class="hp"><span style="left:8.9px">HP</span> <span style="left:28.9px">-</span> <span style="left:37.5px">V2</span> <span style="left:55.1px">close</span> <span style="left:88.5px">0.1</span> <span style="left:111.6px">-0.1</span> <span style="left:138.1px">Target4</span> <span style="left:185.2px">0.618</span> <span style="left:221.5px">1.27</span> <span style="left:250.2px">2.24</span> <span style="left:279.7px">2.618</span> <span style="left:315.6px">8</span> <span style="left:327.2px">11</span> <span style="left:342.5px">Open/Close</span> <span style="left:416.0px">bottom_right</span> <span style="left:496.3px">bottom_left</span> <span style="left:570.7px">3</span> <span style="left:581.9px">2</span> <span style="left:592.2px">5</span> <span style="left:603.1px">2</span> <span style="left:613.5px">8</span> <span style="left:624.4px">2</span> <span style="left:635.3px">13</span> <span style="left:651.5px">2</span></div>
<svg style="position:absolute;left:668px;top:64px" width="20" height="18" viewBox="0 0 20 18"><path d="M2.6 9C4.6 5.4 7 3.7 10 3.7S15.4 5.4 17.4 9C15.4 12.6 13 14.3 10 14.3S4.6 12.6 2.6 9Z" fill="none" stroke="#1c2030" stroke-width="1.3"/><circle cx="10" cy="9" r="2.6" fill="none" stroke="#1c2030" stroke-width="1.3"/><path d="M4.3 15L15.9 2.8" stroke="#1c2030" stroke-width="1.4"/></svg>
<div style="position:absolute;left:8.5px;top:88px;width:59px;height:19px;background:#b3e2dc"></div>
<div style="position:absolute;left:73px;top:88px;width:58.5px;height:19px;background:#b3e2dc"></div>
<div class="t ar" style="left:9.5px;top:88.5px;font-size:12.5px" dir="rtl">حجم تداول</div>
<div class="t" style="left:74.3px;top:90.5px;font-size:12.6px;color:#f7525f">871.932K</div>
<div class="btn" style="left:5px;top:111px;width:27px;height:19px;border-color:#d4d3dc"></div>
<svg style="position:absolute;left:13px;top:116px" width="13" height="10" viewBox="0 0 13 10"><path d="M2.8 7L6.5 3.3L10.2 7" fill="none" stroke="#131722" stroke-width="1.4"/></svg>
<div class="t c" style="left:732px;top:432.2px;width:200px;font-size:12.2px;transform:scaleX(.95)">6.12 (34.61%) 612</div>
<div class="t c" style="left:1490px;top:386.3px;width:200px;font-size:12.2px;transform:scaleX(.95)">6.10 (32.70%) 610</div>
<div class="em" style="left:-1px;top:842px"><span>E</span></div>
<div class="em" style="left:607px;top:842px"><span>E</span></div>
<div style="position:absolute;left:704px;top:-8px;width:179px;height:9.8px;background:#fff;border-radius:4px;box-shadow:0 2px 4px rgba(0,0,0,.32)"><i style="position:absolute;left:38px;top:0;width:1px;height:9px;background:#e6e8ee"></i><i style="position:absolute;left:77px;top:0;width:1px;height:9px;background:#e6e8ee"></i><i style="position:absolute;left:116px;top:0;width:1px;height:9px;background:#e6e8ee"></i><i style="position:absolute;left:155px;top:0;width:1px;height:9px;background:#e6e8ee"></i></div>
</body></html>
